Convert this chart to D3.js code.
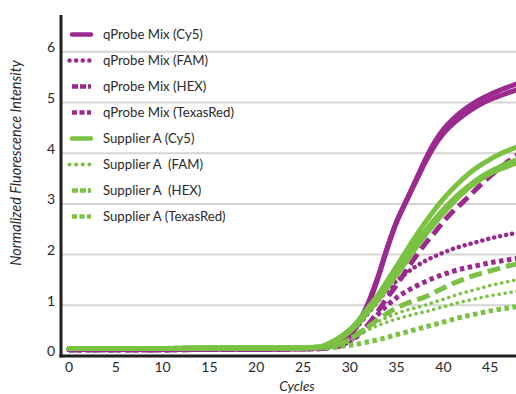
<!DOCTYPE html>
<html>
<head>
<meta charset="utf-8">
<script src="https://cdn.jsdelivr.net/npm/d3@7"></script>
<style>
  body { margin: 0; background: #fff; }
  svg { display: block; font-family: Lato, "Open Sans", sans-serif; }
  .legend text { white-space: pre; }
</style>
</head>
<body>
<svg id="chart" width="516" height="394"></svg>
<script>
var cycles = [0, 5, 10, 15, 20, 25, 26, 27, 28, 29, 30, 31, 32, 33, 34, 35, 36, 37, 38, 39, 40, 41, 42, 43, 44, 45, 46, 47, 48];

// qProbe Mix
var qCy5a   = [0.13, 0.13, 0.13, 0.14, 0.14, 0.15, 0.16, 0.17, 0.2, 0.27, 0.4, 0.66, 1.03, 1.53, 2.12, 2.64, 3.05, 3.45, 3.85, 4.2, 4.47, 4.67, 4.83, 4.96, 5.07, 5.16, 5.24, 5.31, 5.38];
var qCy5b   = [0.13, 0.13, 0.13, 0.14, 0.14, 0.15, 0.16, 0.17, 0.2, 0.28, 0.42, 0.68, 1.06, 1.56, 2.14, 2.65, 3.04, 3.42, 3.8, 4.13, 4.39, 4.58, 4.73, 4.86, 4.97, 5.06, 5.13, 5.2, 5.26];
var qFAM    = [0.12, 0.12, 0.12, 0.13, 0.13, 0.14, 0.15, 0.16, 0.2, 0.28, 0.42, 0.62, 0.85, 1.08, 1.3, 1.48, 1.63, 1.76, 1.87, 1.96, 2.04, 2.11, 2.17, 2.22, 2.27, 2.32, 2.36, 2.4, 2.43];
var qHEX    = [0.12, 0.12, 0.12, 0.13, 0.13, 0.14, 0.14, 0.15, 0.17, 0.2, 0.3, 0.45, 0.63, 0.88, 1.15, 1.4, 1.68, 1.95, 2.2, 2.42, 2.65, 2.85, 3.02, 3.2, 3.38, 3.55, 3.7, 3.85, 3.98];
var qTexas  = [0.12, 0.12, 0.12, 0.13, 0.13, 0.14, 0.14, 0.15, 0.17, 0.2, 0.28, 0.42, 0.62, 0.82, 1.0, 1.15, 1.27, 1.37, 1.46, 1.54, 1.61, 1.67, 1.72, 1.76, 1.8, 1.84, 1.87, 1.9, 1.93];

// Supplier A
var sCy5a   = [0.15, 0.15, 0.15, 0.16, 0.16, 0.16, 0.17, 0.19, 0.27, 0.38, 0.52, 0.72, 0.96, 1.2, 1.48, 1.77, 2.06, 2.35, 2.62, 2.87, 3.1, 3.3, 3.48, 3.64, 3.77, 3.88, 3.98, 4.06, 4.13];
var sCy5b   = [0.15, 0.15, 0.15, 0.16, 0.16, 0.16, 0.17, 0.19, 0.26, 0.36, 0.5, 0.69, 0.92, 1.15, 1.41, 1.67, 1.93, 2.2, 2.45, 2.68, 2.89, 3.08, 3.25, 3.4, 3.53, 3.64, 3.73, 3.81, 3.88];
var sCy5c   = [0.15, 0.15, 0.15, 0.16, 0.16, 0.16, 0.17, 0.18, 0.25, 0.35, 0.48, 0.66, 0.88, 1.1, 1.35, 1.6, 1.86, 2.12, 2.37, 2.6, 2.82, 3.02, 3.2, 3.36, 3.49, 3.6, 3.68, 3.75, 3.82];
var sFAMa   = [0.15, 0.15, 0.15, 0.16, 0.16, 0.16, 0.17, 0.17, 0.18, 0.25, 0.35, 0.47, 0.58, 0.68, 0.76, 0.84, 0.9, 0.95, 1.0, 1.06, 1.12, 1.18, 1.24, 1.29, 1.34, 1.39, 1.43, 1.47, 1.51];
var sFAMb   = [0.15, 0.15, 0.15, 0.16, 0.16, 0.16, 0.17, 0.17, 0.17, 0.23, 0.32, 0.42, 0.52, 0.6, 0.67, 0.73, 0.78, 0.83, 0.87, 0.92, 0.97, 1.02, 1.07, 1.11, 1.15, 1.19, 1.22, 1.25, 1.28];
var sHEX    = [0.15, 0.15, 0.15, 0.16, 0.16, 0.16, 0.17, 0.17, 0.18, 0.24, 0.33, 0.45, 0.58, 0.72, 0.84, 0.95, 1.03, 1.1, 1.16, 1.25, 1.34, 1.43, 1.5, 1.57, 1.63, 1.68, 1.73, 1.78, 1.82];
var sTexas  = [0.15, 0.15, 0.15, 0.16, 0.16, 0.16, 0.16, 0.16, 0.17, 0.19, 0.21, 0.24, 0.28, 0.32, 0.37, 0.42, 0.47, 0.52, 0.57, 0.62, 0.67, 0.72, 0.77, 0.81, 0.85, 0.89, 0.92, 0.95, 0.98];

var yTicks = [0, 1, 2, 3, 4, 5, 6];
var xTicks = [0, 5, 10, 15, 20, 25, 30, 35, 40, 45];

var purple = "#9b2a8e";
var green = "#7bc143";

// line styles: stroke width, chart dasharray, legend dasharray
var styles = {
    Cy5:      { w: 5,   dash: null,      legendDash: null,      cap: "round" },
    FAM:      { w: 4.5, dash: "0.1 6",   legendDash: "0.1 6.5", cap: "round" },
    FAMthin:  { w: 3.5, dash: "0.1 6",   legendDash: "0.1 6.5", cap: "round" },
    HEX:      { w: 5,   dash: "13 6",    legendDash: "6 2",     cap: "butt" },
    TexasRed: { w: 5,   dash: "4.5 3.5", legendDash: "5 2.5",   cap: "butt" }
};

var series = [
    { name: "qProbe Mix (Cy5)",      color: purple, style: "Cy5",      reps: [qCy5a, qCy5b] },
    { name: "qProbe Mix (FAM)",      color: purple, style: "FAM",      reps: [qFAM] },
    { name: "qProbe Mix (HEX)",      color: purple, style: "HEX",      reps: [qHEX] },
    { name: "qProbe Mix (TexasRed)", color: purple, style: "TexasRed", reps: [qTexas] },
    { name: "Supplier A (Cy5)",      color: green,  style: "Cy5",      reps: [sCy5a, sCy5b, sCy5c] },
    { name: "Supplier A  (FAM)",     color: green,  style: "FAMthin",  reps: [sFAMa, sFAMb] },
    { name: "Supplier A  (HEX)",     color: green,  style: "HEX",      reps: [sHEX] },
    { name: "Supplier A (TexasRed)", color: green,  style: "TexasRed", reps: [sTexas] }
];

var svg = d3.select("#chart");

var x = d3.scaleLinear().domain([0, 45]).range([69, 490.2]);
var y = d3.scaleLinear().domain([0, 6]).range([356, 51.8]);

// grid
svg.append("g").selectAll("line")
    .data(yTicks.filter(function (d) { return d > 0; }))
    .enter().append("line")
    .attr("x1", 62).attr("x2", 516)
    .attr("y1", function (d) { return y(d); })
    .attr("y2", function (d) { return y(d); })
    .attr("stroke", "#d5d5d5")
    .attr("stroke-width", 2);

// tick labels
svg.append("g").selectAll("text")
    .data(yTicks)
    .enter().append("text")
    .attr("x", 55)
    .attr("y", function (d) { return y(d) - 4.5; })
    .attr("dy", "0.35em")
    .attr("text-anchor", "end")
    .attr("font-size", 14)
    .attr("fill", "#2a2a2a")
    .text(function (d) { return d; });

svg.append("g").selectAll("text")
    .data(xTicks)
    .enter().append("text")
    .attr("x", function (d) { return x(d); })
    .attr("y", 367)
    .attr("dy", "0.35em")
    .attr("text-anchor", "middle")
    .attr("font-size", 14)
    .attr("fill", "#2a2a2a")
    .text(function (d) { return d; });

// curves
var line = d3.line()
    .x(function (d) { return x(d[0]); })
    .y(function (d) { return y(d[1]); })
    .curve(d3.curveMonotoneX);

series.forEach(function (s) {
    var st = styles[s.style];
    s.reps.forEach(function (vals) {
        var pts = cycles.map(function (c, i) { return [c, vals[i]]; });
        svg.append("path")
            .attr("d", line(pts))
            .attr("fill", "none")
            .attr("stroke", s.color)
            .attr("stroke-width", st.w)
            .attr("stroke-linecap", st.cap)
            .attr("stroke-dasharray", st.dash);
    });
});

// axes lines
svg.append("line")
    .attr("x1", 61).attr("x2", 61).attr("y1", 15).attr("y2", 357.5)
    .attr("stroke", "#231f20").attr("stroke-width", 3);
svg.append("line")
    .attr("x1", 59.5).attr("x2", 516).attr("y1", 356).attr("y2", 356)
    .attr("stroke", "#231f20").attr("stroke-width", 3);

// legend
var leg = svg.append("g").attr("class", "legend").selectAll("g")
    .data(series)
    .enter().append("g")
    .attr("transform", function (d, i) { return "translate(0," + (34.5 + i * 26) + ")"; });

leg.append("line")
    .attr("x1", function (d) { return styles[d.style].cap === "round" && d.style !== "Cy5" ? 69.5 : 72; })
    .attr("x2", 91)
    .attr("stroke", function (d) { return d.color; })
    .attr("stroke-width", function (d) { return d.style === "FAMthin" ? 4 : 4.5; })
    .attr("stroke-linecap", function (d) { return styles[d.style].cap; })
    .attr("stroke-dasharray", function (d) { return styles[d.style].legendDash; });

leg.append("text")
    .attr("x", 103)
    .attr("dy", "0.35em")
    .attr("font-size", 13.2)
    .attr("fill", "#2a2a2a")
    .text(function (d) { return d.name; });

// axis titles
svg.append("text")
    .attr("transform", "translate(16,163) rotate(-90)")
    .attr("dy", "0.35em")
    .attr("text-anchor", "middle")
    .attr("font-size", 14.5)
    .attr("font-style", "italic")
    .attr("fill", "#2a2a2a")
    .text("Normalized Fluorescence Intensity");

svg.append("text")
    .attr("x", 297)
    .attr("y", 386)
    .attr("dy", "0.35em")
    .attr("text-anchor", "middle")
    .attr("font-size", 13.5)
    .attr("font-style", "italic")
    .attr("fill", "#2a2a2a")
    .text("Cycles");
</script>
</body>
</html>
